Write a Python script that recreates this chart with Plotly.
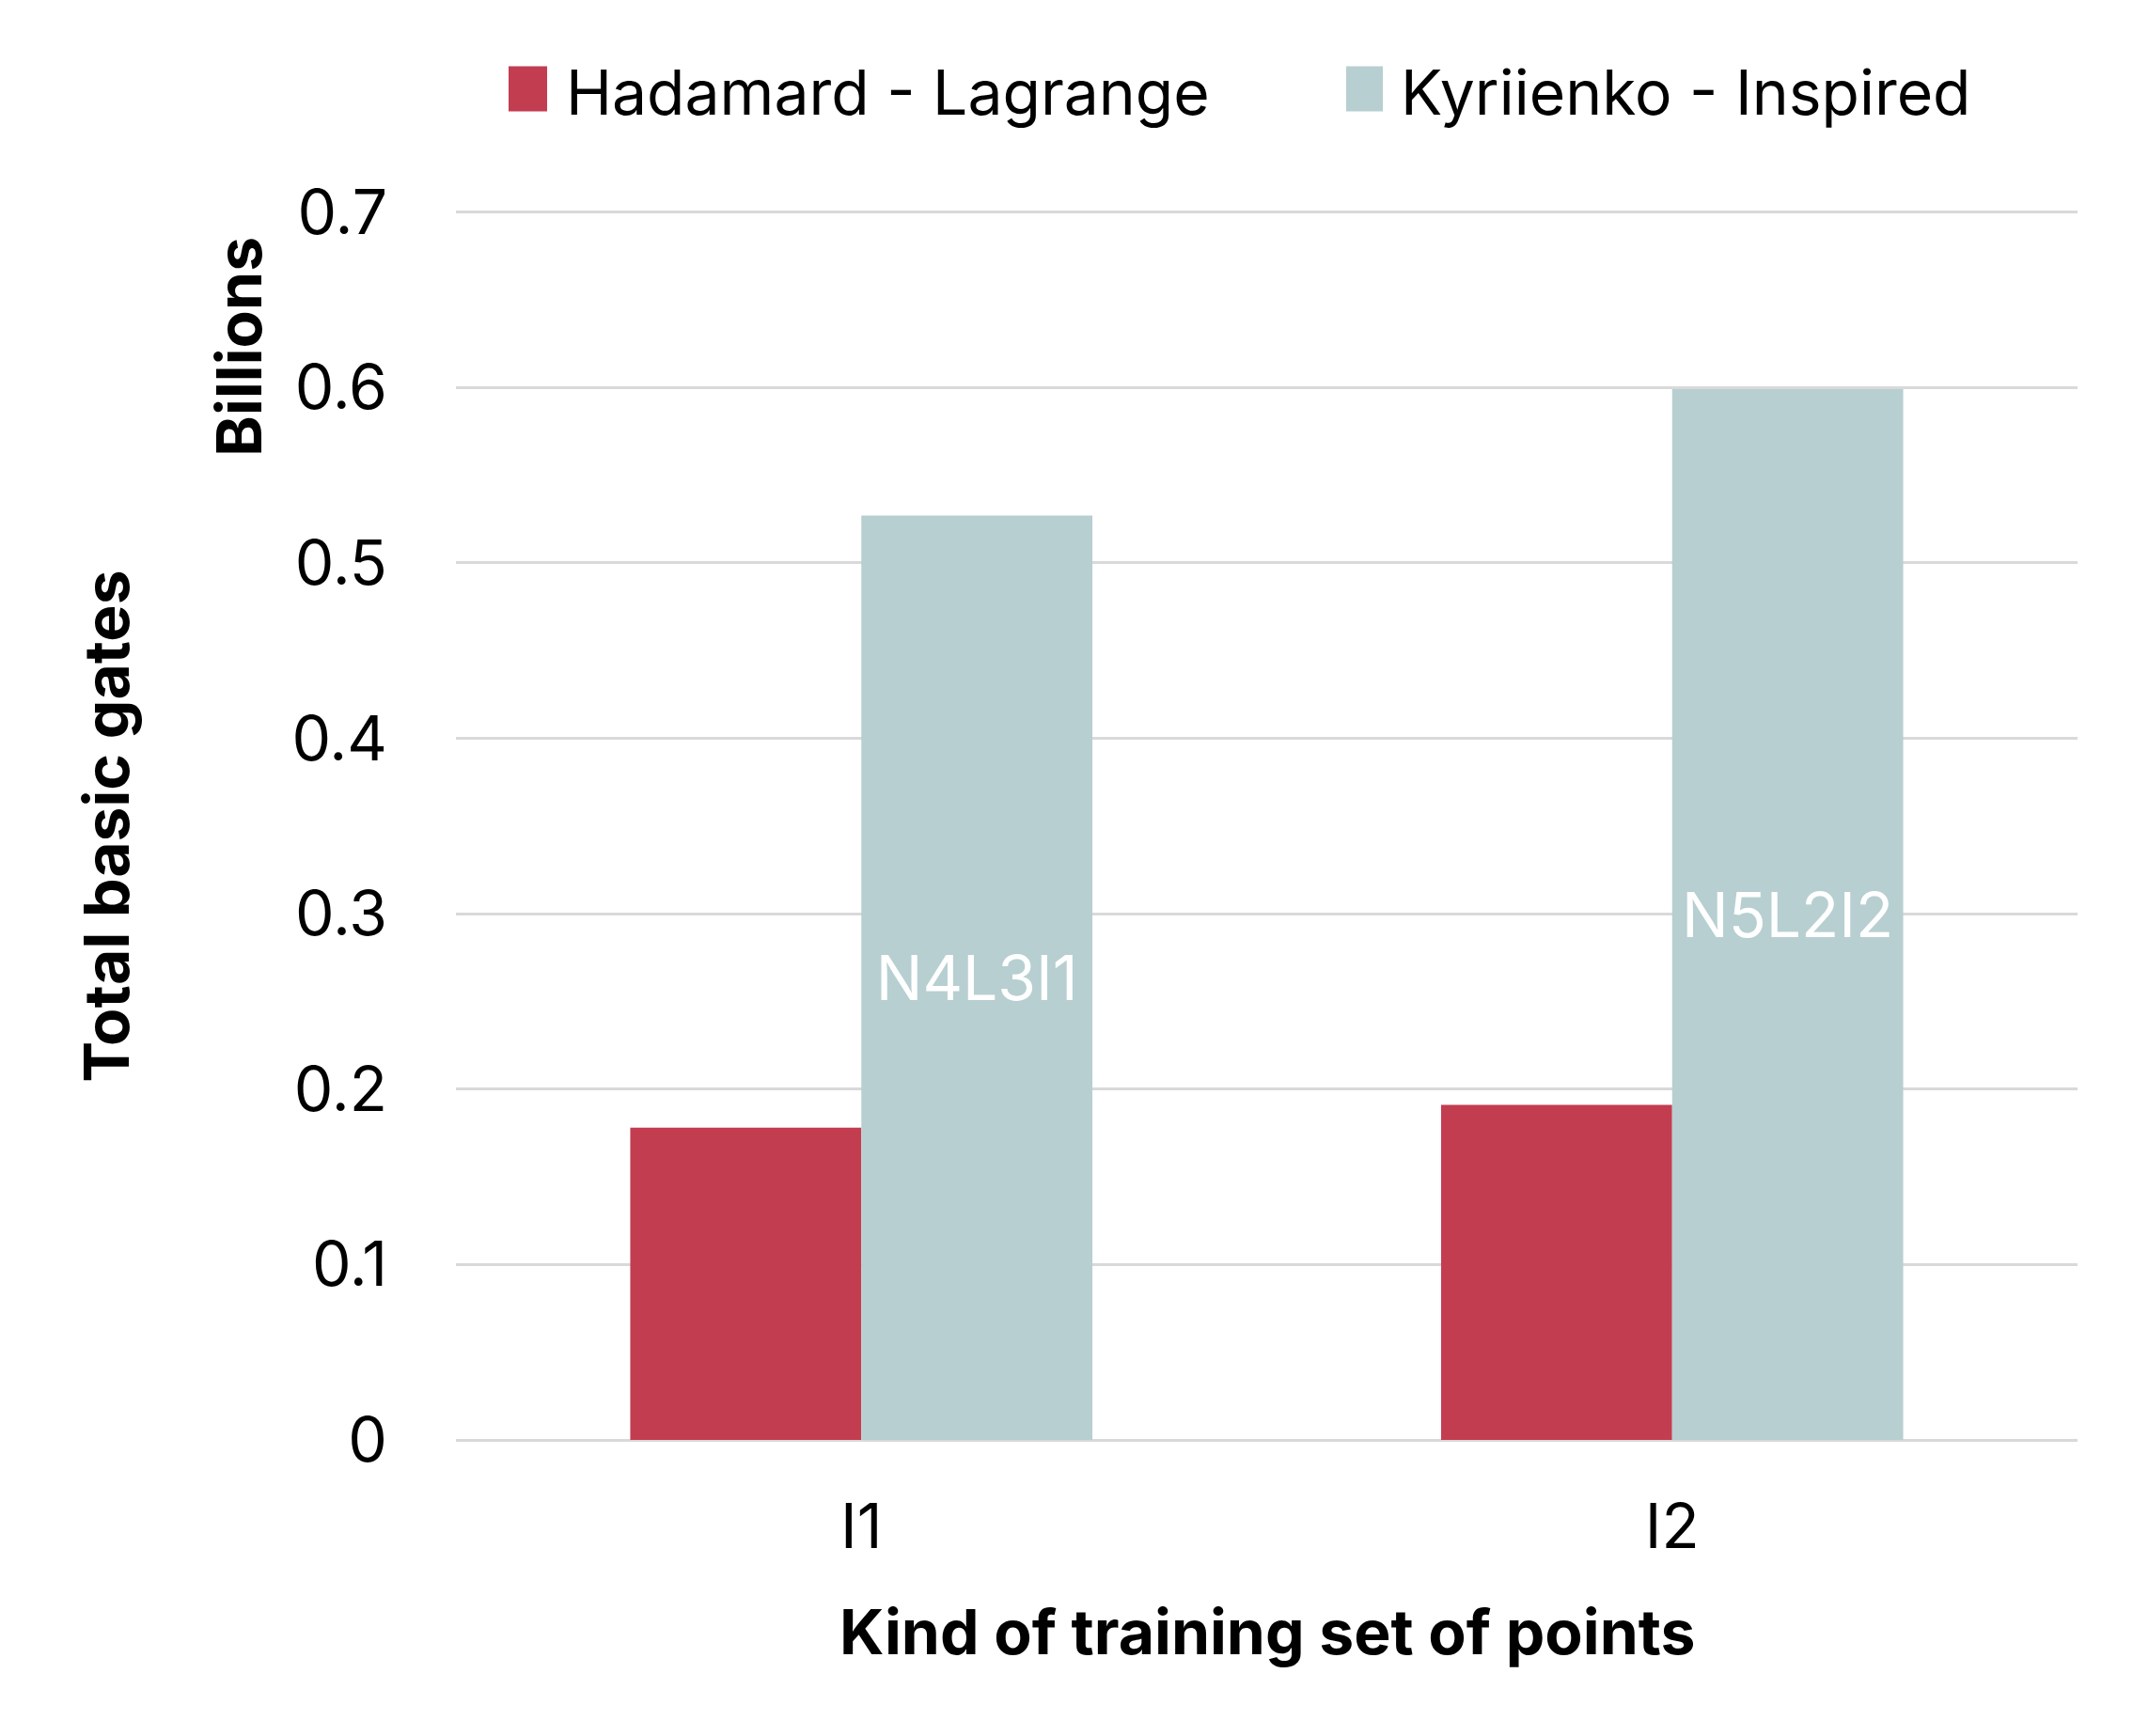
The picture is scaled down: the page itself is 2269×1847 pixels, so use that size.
import plotly.graph_objects as go

categories = ["I1", "I2"]
series_names = ["Hadamard - Lagrange", "Kyriienko - Inspired"]
hadamard = [0.178, 0.191]
kyriienko = [0.527, 0.599]
kyr_labels = ["N4L3I1", "N5L2I2"]
y_ticks = [0, 0.1, 0.2, 0.3, 0.4, 0.5, 0.6, 0.7]
y_tick_text = ["0", "0.1", "0.2", "0.3", "0.4", "0.5", "0.6", "0.7"]

RED = "#C33D51"
TEAL = "#B7CFD1"
FONT = "Inter"
FS = 66

OFF = 8  # page body margin
W, H = 2269, 1847
YMAX = 0.703
pw = 1725
ph = 1306 * YMAX / 0.7
L = 485 - OFF
T = 1532 - OFF - ph
R = W - L - pw
B = H - T - ph

def px(x):
    return (x - OFF - L) / pw

def py(y):
    return (T + ph - (y - OFF)) / ph

fig = go.Figure()
fig.add_trace(go.Bar(x=categories, y=hadamard, name=series_names[0],
                     marker=dict(color=RED, line=dict(width=0)), showlegend=False))
fig.add_trace(go.Bar(x=categories, y=kyriienko, name=series_names[1],
                     marker=dict(color=TEAL, line=dict(width=0)),
                     text=kyr_labels, textposition="inside", insidetextanchor="middle",
                     constraintext="none",
                     textfont=dict(family=FONT, size=FS, color="white"), showlegend=False))

fig.update_layout(
    width=W, height=H,
    margin=dict(l=L, r=R, t=T, b=B),
    paper_bgcolor="white", plot_bgcolor="white",
    barmode="group", bargap=0.43, bargroupgap=0,
    font=dict(family=FONT, size=FS, color="black"),
    xaxis=dict(showgrid=False, zeroline=False, showline=False, ticks="",
               tickfont=dict(family=FONT, size=FS), ticklabelstandoff=48),
    yaxis=dict(range=[0, YMAX], tickvals=y_ticks, ticktext=y_tick_text,
               showgrid=True, gridcolor="#D9D9D9", gridwidth=3,
               zeroline=True, zerolinecolor="#D9D9D9", zerolinewidth=3,
               showline=False, ticks="", tickfont=dict(family=FONT, size=FS),
               ticklabelstandoff=72),
)

# custom legend
legend_items = [(541, 582, 600, RED, series_names[0]), (1432, 1471, 1488, TEAL, series_names[1])]
for x0, x1, xt, col, name in legend_items:
    fig.add_shape(type="rect", xref="paper", yref="paper",
                  x0=px(x0), x1=px(x1), y0=py(119), y1=py(71),
                  fillcolor=col, line=dict(width=0))
    fig.add_annotation(text=name, xref="paper", yref="paper", x=px(xt), y=py(98),
                       xanchor="left", yanchor="middle", showarrow=False,
                       font=dict(family=FONT, size=FS, color="black"))

fig.add_annotation(text="<b>Kind of training set of points</b>", xref="paper", yref="paper",
                   x=0.5, y=py(1736), xanchor="center", yanchor="middle", showarrow=False,
                   font=dict(family=FONT, size=FS, color="black"))
fig.add_annotation(text="<b>Total basic gates</b>", xref="paper", yref="paper",
                   x=px(113), y=py(880), xanchor="center", yanchor="middle", showarrow=False,
                   textangle=-90, font=dict(family=FONT, size=FS, color="black"))
fig.add_annotation(text="<b>Billions</b>", xref="paper", yref="paper",
                   x=px(254), y=py(369), xanchor="center", yanchor="middle", showarrow=False,
                   textangle=-90, font=dict(family=FONT, size=FS, color="black"))

fig.write_html("out.html")
